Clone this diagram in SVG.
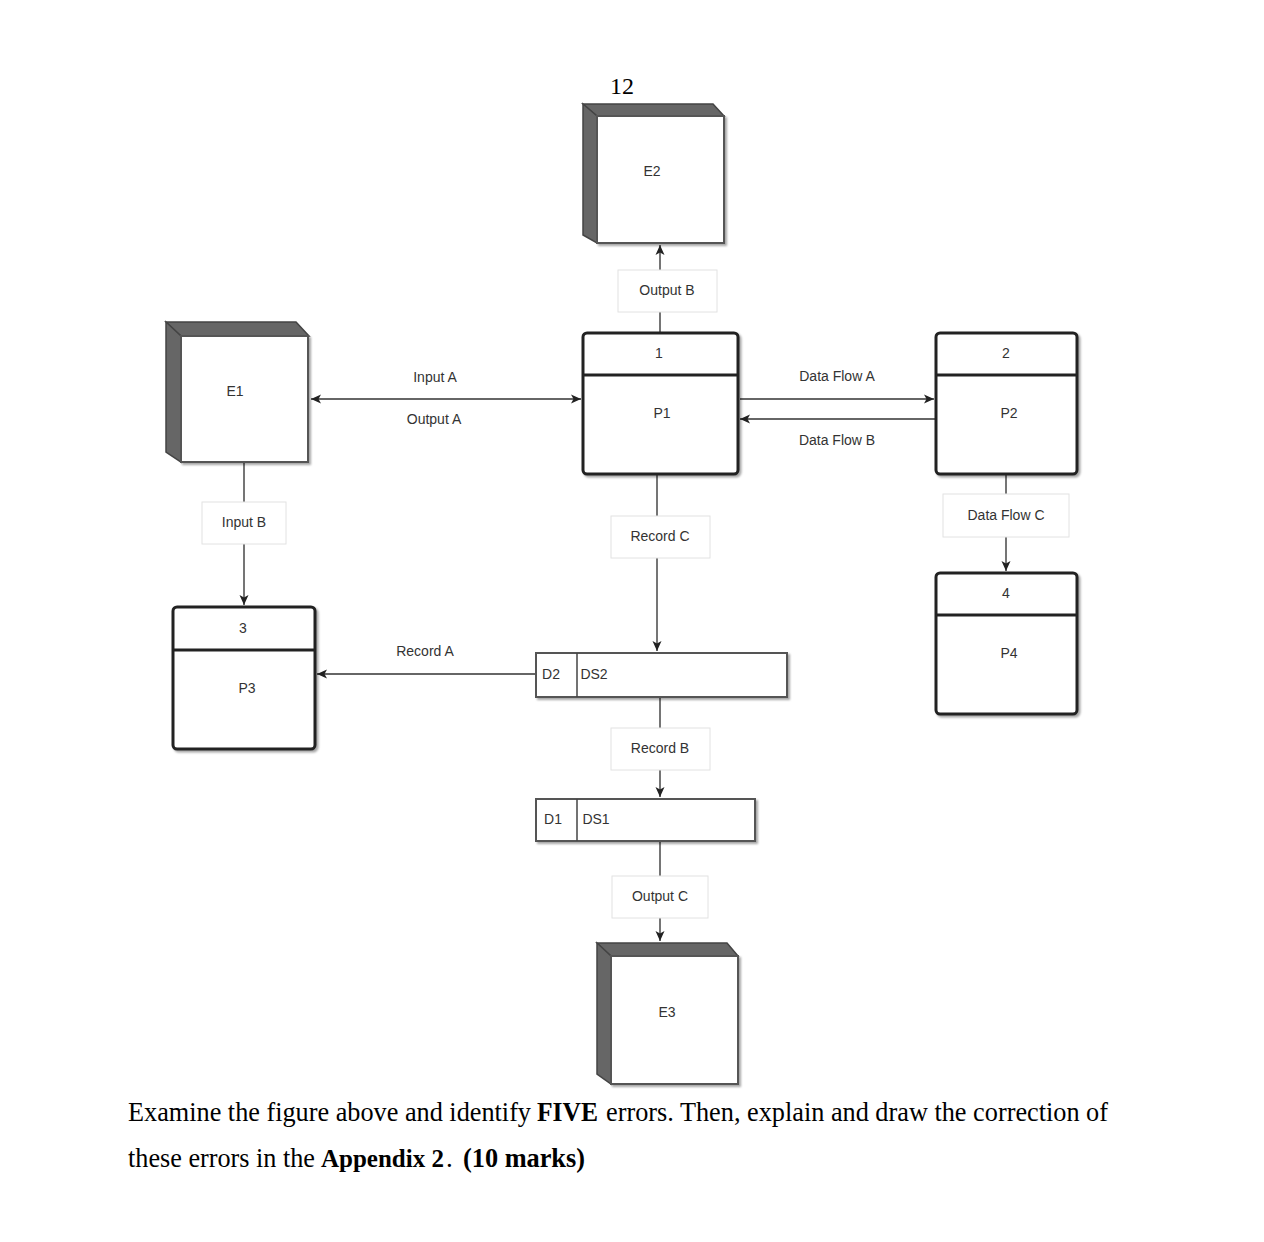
<svg xmlns="http://www.w3.org/2000/svg" width="1264" height="1242" viewBox="0 0 1264 1242">
<defs>
<marker id="arr" markerWidth="12" markerHeight="12" refX="11" refY="6" orient="auto" markerUnits="userSpaceOnUse">
<path d="M1,1.5 L11,6 L1,10.5 L3.5,6 Z" fill="#222"/>
</marker>
<marker id="arrs" markerWidth="12" markerHeight="12" refX="1" refY="6" orient="auto" markerUnits="userSpaceOnUse">
<path d="M11,1.5 L1,6 L11,10.5 L8.5,6 Z" fill="#222"/>
</marker>
<filter id="sh" x="-10%" y="-10%" width="130%" height="130%">
<feDropShadow dx="2" dy="2" stdDeviation="1.2" flood-color="#000" flood-opacity="0.35"/>
</filter>
</defs>
<style>
.lbl{font-family:"Liberation Sans",Arial,sans-serif;font-size:14px;fill:#333;text-anchor:middle;dominant-baseline:middle}
.box{fill:#fff;stroke:#e2e2e2;stroke-width:1}
.flow{fill:none;stroke:#666;stroke-width:1.8}
.proc{fill:#fff;stroke:#222;stroke-width:3}
.div{stroke:#222;stroke-width:3}
.front{fill:#fff;stroke:#555;stroke-width:2}
.side{fill:#666;stroke:#444;stroke-width:1.5}
.ds{fill:#fff;stroke:#555;stroke-width:2}
.serif{font-family:"Liberation Serif","Times New Roman",serif;fill:#000}
.cap{font-family:"Liberation Serif","Times New Roman",serif;fill:#000;font-size:27px}
.b{font-weight:bold}
</style>
<rect width="1264" height="1242" fill="#fff"/>
<text x="622" y="94" class="serif" font-size="24" text-anchor="middle">12</text>

<g id="connectors">
<line class="flow" x1="660" y1="333" x2="660" y2="245" marker-end="url(#arr)"/>
<line class="flow" x1="311" y1="399" x2="581" y2="399" marker-start="url(#arrs)" marker-end="url(#arr)"/>
<line class="flow" x1="740" y1="399" x2="934" y2="399" marker-end="url(#arr)"/>
<line class="flow" x1="936" y1="419" x2="740" y2="419" marker-end="url(#arr)"/>
<line class="flow" x1="657" y1="475" x2="657" y2="651" marker-end="url(#arr)"/>
<line class="flow" x1="536" y1="674" x2="317" y2="674" marker-end="url(#arr)"/>
<line class="flow" x1="244" y1="463" x2="244" y2="605" marker-end="url(#arr)"/>
<line class="flow" x1="660" y1="698" x2="660" y2="797" marker-end="url(#arr)"/>
<line class="flow" x1="660" y1="842" x2="660" y2="941" marker-end="url(#arr)"/>
<line class="flow" x1="1006" y1="475" x2="1006" y2="571" marker-end="url(#arr)"/>
<rect class="box" x="618" y="270" width="99" height="42"/>
<text class="lbl" x="667" y="291">Output B</text>
<text class="lbl" x="435" y="378">Input A</text>
<text class="lbl" x="434" y="420">Output A</text>
<text class="lbl" x="837" y="377">Data Flow A</text>
<text class="lbl" x="837" y="441">Data Flow B</text>
<rect class="box" x="611" y="516" width="99" height="42"/>
<text class="lbl" x="660" y="537">Record C</text>
<rect class="box" x="202" y="502" width="84" height="42"/>
<text class="lbl" x="244" y="523">Input B</text>
<text class="lbl" x="425" y="652">Record A</text>
<rect class="box" x="611" y="728" width="99" height="42"/>
<text class="lbl" x="660" y="749">Record B</text>
<rect class="box" x="612" y="876" width="96" height="42"/>
<text class="lbl" x="660" y="897">Output C</text>
<rect class="box" x="943" y="494" width="126" height="43"/>
<text class="lbl" x="1006" y="516">Data Flow C</text>
</g>

<g id="E2">
<path class="side" d="M583,104 L713,104 L724,116 L597,116 Z"/>
<path class="side" d="M583,104 L597,116 L597,243 L583,235 Z"/>
<rect class="front" x="597" y="116" width="127" height="127" filter="url(#sh)"/>
<text class="lbl" x="652" y="172">E2</text>
</g>

<g id="E1">
<path class="side" d="M166,322 L296,322 L309,336 L181,336 Z"/>
<path class="side" d="M166,322 L181,336 L181,462 L166,452 Z"/>
<rect class="front" x="181" y="336" width="127" height="126" filter="url(#sh)"/>
<text class="lbl" x="235" y="392">E1</text>
</g>

<g id="E3">
<path class="side" d="M597,943 L727,943 L738,956 L611,956 Z"/>
<path class="side" d="M597,943 L611,956 L611,1084 L597,1074 Z"/>
<rect class="front" x="611" y="956" width="127" height="128" filter="url(#sh)"/>
<text class="lbl" x="667" y="1013">E3</text>
</g>

<g id="P1">
<rect class="proc" x="583" y="333" width="155" height="141" rx="4" filter="url(#sh)"/>
<line class="div" x1="583" y1="375" x2="738" y2="375"/>
<text class="lbl" x="659" y="354">1</text>
<text class="lbl" x="662" y="414">P1</text>
</g>

<g id="P2">
<rect class="proc" x="936" y="333" width="141" height="141" rx="4" filter="url(#sh)"/>
<line class="div" x1="936" y1="375" x2="1077" y2="375"/>
<text class="lbl" x="1006" y="354">2</text>
<text class="lbl" x="1009" y="414">P2</text>
</g>

<g id="P3">
<rect class="proc" x="173" y="607" width="142" height="142" rx="4" filter="url(#sh)"/>
<line class="div" x1="173" y1="650" x2="315" y2="650"/>
<text class="lbl" x="243" y="629">3</text>
<text class="lbl" x="247" y="689">P3</text>
</g>

<g id="P4">
<rect class="proc" x="936" y="573" width="141" height="141" rx="4" filter="url(#sh)"/>
<line class="div" x1="936" y1="615" x2="1077" y2="615"/>
<text class="lbl" x="1006" y="594">4</text>
<text class="lbl" x="1009" y="654">P4</text>
</g>

<g id="DS2">
<rect class="ds" x="536" y="653" width="251" height="44" filter="url(#sh)"/>
<line stroke="#444" stroke-width="1.5" x1="577" y1="653" x2="577" y2="697"/>
<text class="lbl" x="551" y="675">D2</text>
<text class="lbl" x="594" y="675">DS2</text>
</g>

<g id="DS1">
<rect class="ds" x="536" y="799" width="219" height="42" filter="url(#sh)"/>
<line stroke="#444" stroke-width="1.5" x1="577" y1="799" x2="577" y2="841"/>
<text class="lbl" x="553" y="820">D1</text>
<text class="lbl" x="596" y="820">DS1</text>
</g>

<g id="caption">
<text class="cap" x="128" y="1121" textLength="403" lengthAdjust="spacingAndGlyphs">Examine the figure above and identify</text>
<text class="cap b" x="537" y="1121" textLength="61" lengthAdjust="spacingAndGlyphs">FIVE</text>
<text class="cap" x="606" y="1121" textLength="502" lengthAdjust="spacingAndGlyphs">errors. Then, explain and draw the correction of</text>
<text class="cap" x="128" y="1167" textLength="187" lengthAdjust="spacingAndGlyphs">these errors in the</text>
<text class="cap b" x="321" y="1167" font-size="25" style="font-size:25px">Appendix 2</text>
<text class="cap" x="446" y="1167">.</text>
<text class="cap b" x="463" y="1167" textLength="122" lengthAdjust="spacingAndGlyphs">(10 marks)</text>
</g>
</svg>
